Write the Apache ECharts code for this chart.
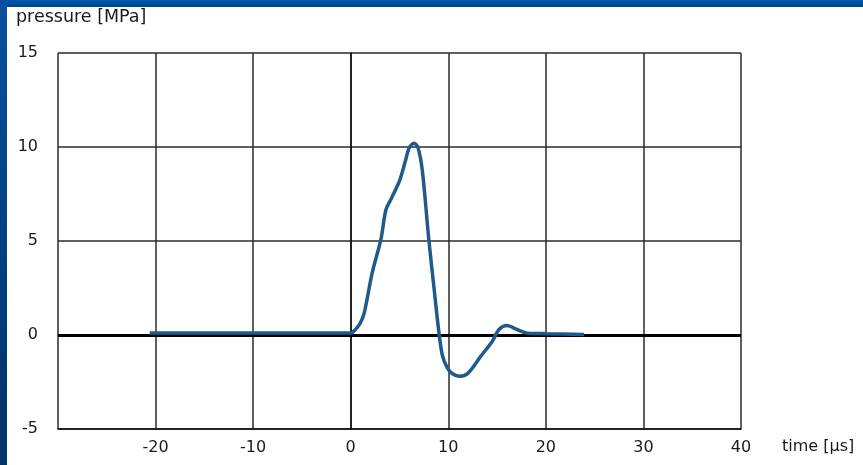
<!DOCTYPE html>
<html>
<head>
<meta charset="utf-8">
<script src="https://cdn.jsdelivr.net/npm/echarts@6/dist/echarts.min.js"></script>
<style>
html,body{margin:0;padding:0;background:#fff;}
#c{width:863px;height:465px;}
</style>
</head>
<body>
<div id="c"></div>
<script>
var timeUs = [-20.6, -10, 0, 0.5, 1.0, 1.4, 2.2, 3.1, 3.6, 4.1, 5.0, 5.6, 6.0, 6.5, 6.9, 7.35, 8.0, 8.55, 9.05, 9.4, 9.9, 10.4, 11.1, 12.0, 13.3, 14.5, 15.2, 16.0, 17.1, 18.1, 20.1, 23.9];
var pressureMPa = [0.1, 0.1, 0.1, 0.3, 0.65, 1.2, 3.3, 5.1, 6.65, 7.2, 8.2, 9.25, 9.96, 10.2, 9.96, 8.7, 5.1, 2.44, 0.1, -1.1, -1.75, -2.05, -2.2, -2.04, -1.15, -0.34, 0.29, 0.5, 0.28, 0.1, 0.07, 0.02];
var xTicks = {min: -30, max: 40, interval: 10};
var yTicks = {min: -5, max: 15, interval: 5};
var yAxisTitle = 'pressure [MPa]';
var xAxisTitle = 'time [µs]';

var points = timeUs.map(function (t, i) { return [t, pressureMPa[i]]; });
var font = '"DejaVu Sans", "Liberation Sans", Arial, sans-serif';

var chart = echarts.init(document.getElementById('c'), null, {renderer: 'canvas'});
chart.setOption({
  backgroundColor: '#ffffff',
  animation: false,
  grid: {left: 58, top: 53, right: 122, bottom: 36, containLabel: false},
  graphic: [
    {type: 'rect', left: 0, top: 0, z: 0, shape: {width: 863, height: 7},
     style: {fill: new echarts.graphic.LinearGradient(0, 0, 0, 1, [{offset: 0, color: '#0058b5'}, {offset: 1, color: '#00458a'}])}},
    {type: 'rect', left: 0, top: 0, z: 0, shape: {width: 7, height: 465},
     style: {fill: new echarts.graphic.LinearGradient(0, 0, 0, 1, [{offset: 0, color: '#0a4f9e'}, {offset: 1, color: '#003366'}])}},
    {type: 'text', left: 16, top: 8, z: 10,
     style: {text: yAxisTitle, fill: '#1a1a1a', font: '17.5px ' + font}},
    {type: 'text', left: 782, top: 439, z: 10,
     style: {text: xAxisTitle, fill: '#1a1a1a', font: '16px ' + font}}
  ],
  xAxis: {
    type: 'value', min: xTicks.min, max: xTicks.max, interval: xTicks.interval,
    axisLine: {show: true, onZero: false, lineStyle: {color: '#111', width: 1.5}},
    axisTick: {show: false},
    axisLabel: {show: true, showMinLabel: false, margin: 11, color: '#1a1a1a', fontSize: 16, fontFamily: font},
    splitLine: {show: true, lineStyle: {color: '#2a2a2a', width: 1.5}}
  },
  yAxis: {
    type: 'value', min: yTicks.min, max: yTicks.max, interval: yTicks.interval,
    axisLine: {show: true, lineStyle: {color: '#111', width: 1.5}},
    axisTick: {show: false},
    axisLabel: {show: true, margin: 20, color: '#1a1a1a', fontSize: 16, fontFamily: font},
    splitLine: {show: true, lineStyle: {color: '#2a2a2a', width: 1.5}}
  },
  series: [{
    type: 'line',
    data: points,
    smooth: 0.3,
    showSymbol: false,
    symbol: 'none',
    lineStyle: {color: '#1f5a8c', width: 3.5},
    z: 5,
    markLine: {
      silent: true, symbol: ['none', 'none'], label: {show: false},
      lineStyle: {color: '#000', width: 3, type: 'solid'},
      data: [{yAxis: 0}],
      z: 4
    }
  }]
});
</script>
</body>
</html>
